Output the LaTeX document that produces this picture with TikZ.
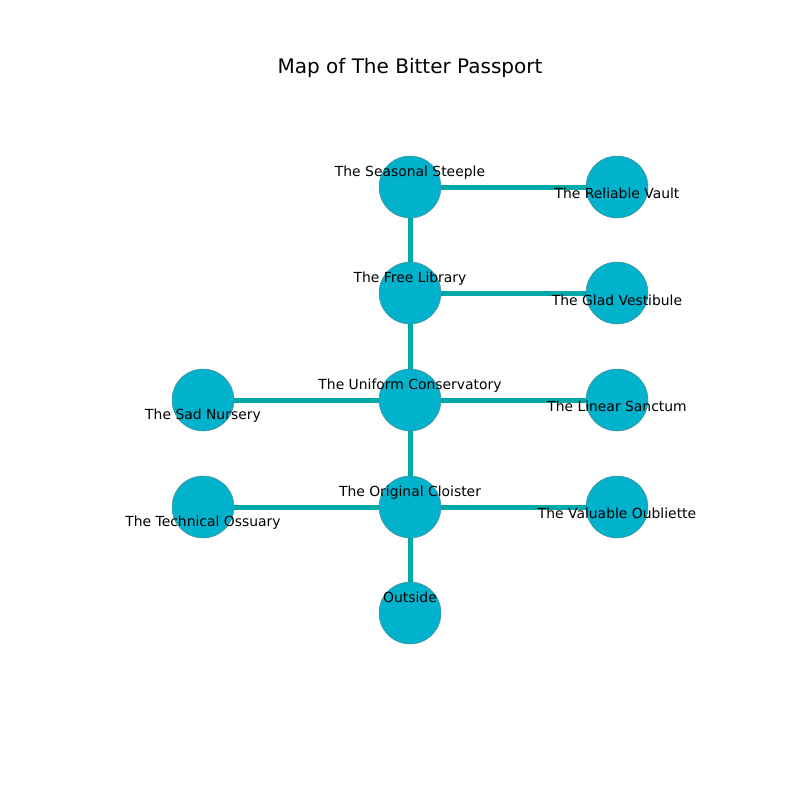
\documentclass[tikz,border=0pt]{standalone}
\usepackage{fontspec}
\setmainfont{DejaVu Sans}
\usepackage{tikz}
\usetikzlibrary{positioning}
\definecolor{roomfill}{HTML}{00B2CC}
\definecolor{passage}{HTML}{00A9A9}
\definecolor{roomedge}{HTML}{5A8A92}

\begin{document}
\begin{tikzpicture}[x=1pt, y=-1pt,
  room/.style={circle, draw=roomedge, line width=0.5pt, fill=roomfill, minimum size=62pt, inner sep=0pt},
  way/.style={passage, line width=5pt},
  lbl/.style={anchor=base, inner sep=0pt, font=\fontsize{13.9}{16}\selectfont}]
  \useasboundingbox (0,0) rectangle (800,800);

  % Title
  \node (title) at (410,74) [anchor=base, font=\fontsize{20}{24}\selectfont] {Map of The Bitter Passport};

  % Rooms
  \node (steeple) at (410,187) [room] {};
  \node (vault) at (617,187) [room] {};
  \node (library) at (410,293) [room] {};
  \node (vestibule) at (617,293) [room] {};
  \node (nursery) at (203,400) [room] {};
  \node (conservatory) at (410,400) [room] {};
  \node (sanctum) at (617,400) [room] {};
  \node (ossuary) at (203,507) [room] {};
  \node (cloister) at (410,507) [room] {};
  \node (oubliette) at (617,507) [room] {};
  \node (outside) at (410,613) [room] {};

  % Passages
  \draw[way] (steeple) -- (vault);
  \draw[way] (steeple) -- (library);
  \draw[way] (library) -- (vestibule);
  \draw[way] (library) -- (conservatory);
  \draw[way] (nursery) -- (conservatory);
  \draw[way] (conservatory) -- (sanctum);
  \draw[way] (conservatory) -- (cloister);
  \draw[way] (ossuary) -- (cloister);
  \draw[way] (cloister) -- (oubliette);
  \draw[way] (cloister) -- (outside);

  % Labels
  \node (steeple-l) at (410,176) [lbl] {The Seasonal Steeple};
  \node (vault-l) at (617,198) [lbl] {The Reliable Vault};
  \node (library-l) at (410,282) [lbl] {The Free Library};
  \node (vestibule-l) at (617,305) [lbl] {The Glad Vestibule};
  \node (nursery-l) at (203,419) [lbl] {The Sad Nursery};
  \node (conservatory-l) at (410,389) [lbl] {The Uniform Conservatory};
  \node (sanctum-l) at (617,411) [lbl] {The Linear Sanctum};
  \node (ossuary-l) at (203,526) [lbl] {The Technical Ossuary};
  \node (cloister-l) at (410,496) [lbl] {The Original Cloister};
  \node (oubliette-l) at (617,518) [lbl] {The Valuable Oubliette};
  \node (outside-l) at (410,602) [lbl] {Outside};
\end{tikzpicture}
\end{document}
